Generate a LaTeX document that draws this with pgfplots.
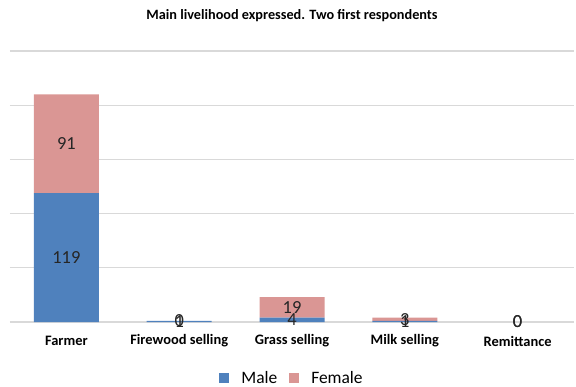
\documentclass[border=0pt]{standalone}
\usepackage{fontspec}
\setmainfont{Carlito}
\usepackage{pgfplots}
\pgfplotsset{compat=1.18}
\definecolor{male}{HTML}{4F81BD}
\definecolor{female}{HTML}{DA9694}
\definecolor{gridgray}{HTML}{D9D9D9}
\begin{document}
\begin{tikzpicture}
\useasboundingbox (-10bp,-65bp) rectangle (566bp,322bp);
\pgfplotsset{
  common/.style={
    scale only axis, width=564bp, height=271bp,
    xmin=-0.5, xmax=4.5, ymin=0, ymax=250,
  }
}
\begin{axis}[
  common,
  ybar stacked, bar width=65bp,
  xtick={0,1,2,3,4},
  xticklabels={Farmer, Firewood selling, Grass selling, Milk selling, Remittance},
  xticklabel style={font=\bfseries\fontsize{14.5}{16}\selectfont, anchor=center, yshift=-19bp},
  ytick={0,50,100,150,200,250}, yticklabels={},
  ymajorgrids, grid style={gridgray, line width=1.2bp},
  axis line style={draw=none}, tick style={draw=none},
  title={\bfseries Main livelihood expressed. Two first respondents},
  title style={font=\fontsize{14.3}{16}\selectfont, anchor=center, at={(0.5,1)}, yshift=29bp},
  legend style={at={(0.5,-0.206)}, anchor=center, draw=none, legend columns=2,
    font=\fontsize{17.5}{19}\selectfont, column sep=10bp, inner sep=0pt},
  legend image code/.code={\fill[#1] (0bp,-5bp) rectangle (10bp,5bp);},
]
\addplot[fill=male, draw=none] coordinates {(0,119) (1,1) (2,4) (3,1) (4,0)};
\addplot[fill=female, draw=none] coordinates {(0,91) (1,0) (2,19) (3,3) (4,0)};
\legend{Male, Female}
\end{axis}
\begin{axis}[
  common, axis lines=none,
  nodes near coords, point meta=explicit symbolic,
  every node near coord/.append style={anchor=center, font=\fontsize{18.5}{20}\selectfont, text=black!85},
]
\addplot[only marks, mark=none] coordinates {
  (0,59.5)[119] (0,164.5)[91]
  (1,0.5)[1] (1,1)[0]
  (2,2)[4] (2,13.5)[19]
  (3,0.5)[1] (3,2.5)[3]
  (4,0)[0] (4,0)[0]
};
\end{axis}
\end{tikzpicture}
\end{document}
